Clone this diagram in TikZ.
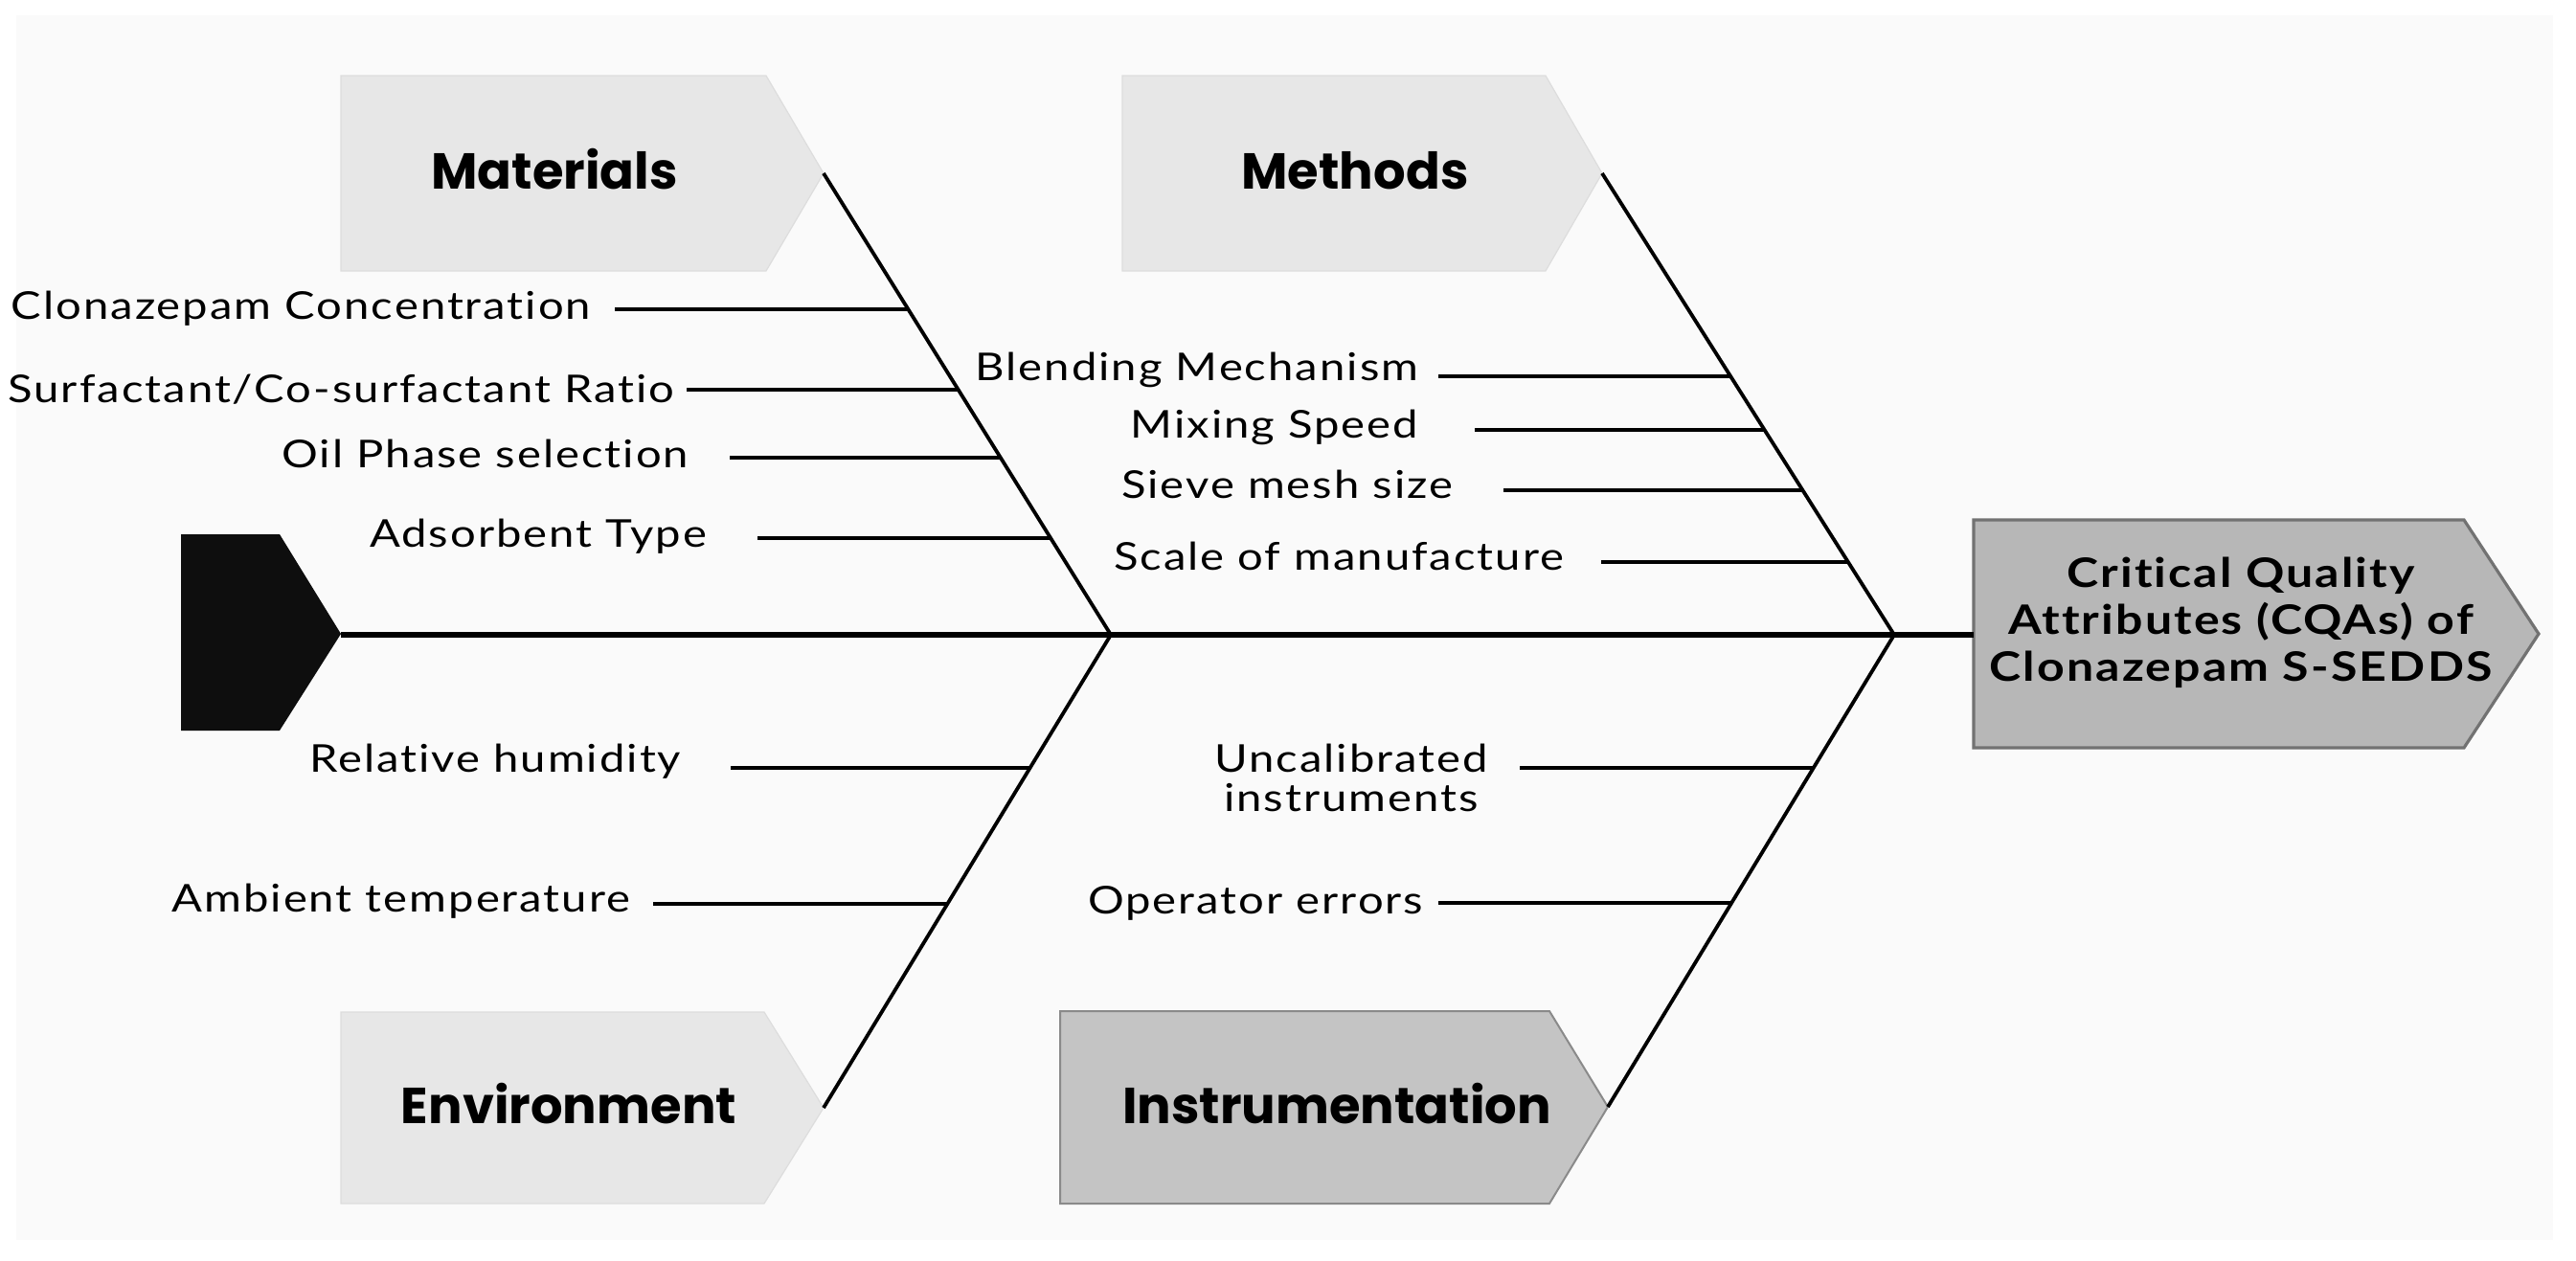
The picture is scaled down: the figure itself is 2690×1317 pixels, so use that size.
\documentclass[tikz,border=0pt]{standalone}
\usepackage{fontspec}
\setmainfont{Lato}
\newfontfamily\headfont{Poppins}
\newfontfamily\labfont{Lato}[FakeStretch=1.18, LetterSpace=5, Ligatures=NoCommon]
\usetikzlibrary{calc}
\definecolor{panelbg}{HTML}{FAFAFA}
\definecolor{boxlight}{HTML}{E7E7E7}
\definecolor{boxlightedge}{HTML}{DDDDDD}
\definecolor{boxmid}{HTML}{C4C4C4}
\definecolor{boxmidedge}{HTML}{8A8A8A}
\definecolor{boxdark}{HTML}{B7B7B7}
\definecolor{boxdarkedge}{HTML}{727272}
\definecolor{tailfill}{HTML}{0E0E0E}
\begin{document}
\begin{tikzpicture}[x=0.25pt,y=-0.25pt,
  lab/.style={font=\labfont\fontsize{10}{11.5}\selectfont, inner sep=0pt, text=black},
  head/.style={font=\headfont\bfseries\fontsize{13.2}{15}\selectfont, inner sep=0pt, text=black},
  cqatext/.style={font=\labfont\bfseries\fontsize{10.6}{12.25}\selectfont, inner sep=0pt, align=center, text=black},
  bone/.style={line width=0.95pt, black},
  rib/.style={line width=1.05pt, black},
  spineline/.style={line width=1.3pt, black},
  lightbox/.style={fill=boxlight, draw=boxlightedge, line width=0.3pt},
  midbox/.style={fill=boxmid, draw=boxmidedge, line width=0.5pt},
  darkbox/.style={fill=boxdark, draw=boxdarkedge, line width=0.8pt}]
\useasboundingbox (0,0) rectangle (2690,1317);
\fill[white] (0,0) rectangle (2690,1317);
\fill[panelbg] (17,16) rectangle (2666,1295);

% category boxes
\path[lightbox] (356,79) -- (800,79) -- (860,181) -- (800,283) -- (356,283) -- cycle;
\path[lightbox] (1172,79) -- (1614,79) -- (1673,181) -- (1614,283) -- (1172,283) -- cycle;
\path[lightbox] (356,1057) -- (798,1057) -- (860,1157) -- (798,1257) -- (356,1257) -- cycle;
\path[midbox] (1107,1056) -- (1618,1056) -- (1679,1156) -- (1618,1257) -- (1107,1257) -- cycle;
\path[darkbox] (2061,543) -- (2573,543) -- (2651,662) -- (2573,781) -- (2061,781) -- cycle;
\fill[tailfill] (189,558) -- (292,558) -- (356,662) -- (292,763) -- (189,763) -- cycle;

% key coordinates
\coordinate (tailTip) at (356,663);
\coordinate (cqaL) at (2061,663);
\coordinate (J1) at (1160,663);
\coordinate (J2) at (1978,663);
\coordinate (matTip) at (860,181);
\coordinate (metTip) at (1673,181);
\coordinate (envTip) at (860,1157);
\coordinate (insTip) at (1679,1156);

% spine and bones
\draw[spineline] (tailTip) -- (cqaL);
\draw[bone] (matTip) -- (J1) -- (envTip);
\draw[bone] (metTip) -- (J2) -- (insTip);

% headers
\node[head, anchor=base] (hMat) at (579,197) {Materials};
\node[head, anchor=base] (hMet) at (1415,197) {Methods};
\node[head, anchor=base] (hEnv) at (594,1173) {Environment};
\node[head, anchor=base] (hIns) at (1396,1173) {Instrumentation};
\node[cqatext] (cqa) at (2340,650) {Critical Quality\\Attributes (CQAs) of\\Clonazepam S-SEDDS};

% Materials causes
\node[lab, anchor=base east] (m1) at (618,333) {Clonazepam Concentration};
\node[lab, anchor=base east] (m2) at (705,420) {Surfactant/Co-surfactant Ratio};
\node[lab, anchor=base east] (m3) at (720,488) {Oil Phase selection};
\node[lab, anchor=base east] (m4) at (739,571) {Adsorbent Type};
\coordinate (m1s) at (642,323); \coordinate (m1e) at (948,323);
\coordinate (m2s) at (717,407); \coordinate (m2e) at (1001,407);
\coordinate (m3s) at (762,478); \coordinate (m3e) at (1045,478);
\coordinate (m4s) at (791,562); \coordinate (m4e) at (1097,562);
\draw[rib] (m1s) -- (m1e);
\draw[rib] (m2s) -- (m2e);
\draw[rib] (m3s) -- (m3e);
\draw[rib] (m4s) -- (m4e);

% Methods causes
\node[lab, anchor=base east] (t1) at (1482,397) {Blending Mechanism};
\node[lab, anchor=base east] (t2) at (1482,457) {Mixing Speed};
\node[lab, anchor=base east] (t3) at (1518,520) {Sieve mesh size};
\node[lab, anchor=base east] (t4) at (1634,595) {Scale of manufacture};
\coordinate (t1s) at (1502,393); \coordinate (t1e) at (1807,393);
\coordinate (t2s) at (1540,449); \coordinate (t2e) at (1843,449);
\coordinate (t3s) at (1570,512); \coordinate (t3e) at (1882,512);
\coordinate (t4s) at (1672,587); \coordinate (t4e) at (1930,587);
\draw[rib] (t1s) -- (t1e);
\draw[rib] (t2s) -- (t2e);
\draw[rib] (t3s) -- (t3e);
\draw[rib] (t4s) -- (t4e);

% Environment causes
\node[lab, anchor=base east] (e1) at (712,806) {Relative humidity};
\node[lab, anchor=base east] (e2) at (659,952) {Ambient temperature};
\coordinate (e1s) at (763,802); \coordinate (e1e) at (1076,802);
\coordinate (e2s) at (682,944); \coordinate (e2e) at (989,944);
\draw[rib] (e1s) -- (e1e);
\draw[rib] (e2s) -- (e2e);

% Instrumentation causes
\node[lab, anchor=base] (i1a) at (1411,806) {Uncalibrated};
\node[lab, anchor=base] (i1b) at (1411,847) {instruments};
\node[lab, anchor=base east] (i2) at (1487,954) {Operator errors};
\coordinate (i1s) at (1587,802); \coordinate (i1e) at (1894,802);
\coordinate (i2s) at (1502,943); \coordinate (i2e) at (1808,943);
\draw[rib] (i1s) -- (i1e);
\draw[rib] (i2s) -- (i2e);
\end{tikzpicture}
\end{document}
